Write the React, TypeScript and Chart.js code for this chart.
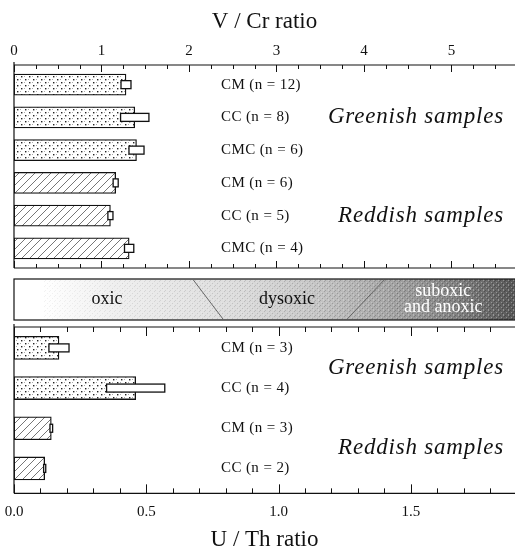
import React, { useEffect, useRef } from "react";
import { Chart, registerables } from "chart.js";

Chart.register(...registerables);

// ---------- data ----------
const topCategories = ["CM (n = 12)", "CC (n = 8)", "CMC (n = 6)", "CM (n = 6)", "CC (n = 5)", "CMC (n = 4)"];
const topGroups = ["green", "green", "green", "red", "red", "red"];
const vcrMean = [1.28, 1.38, 1.4, 1.162, 1.102, 1.316];
const vcrSd = [0.057, 0.162, 0.086, 0.029, 0.029, 0.053];
const topGroupLabels = ["Greenish samples", "Reddish samples"];
const topGroupRows = [1, 4];

const botCategories = ["CM (n = 3)", "CC (n = 4)", "CM (n = 3)", "CC (n = 2)"];
const botGroups = ["green", "green", "red", "red"];
const uthMean = [0.17, 0.46, 0.141, 0.116];
const uthSd = [0.038, 0.11, 0.005, 0.004];
const botGroupLabels = ["Greenish samples", "Reddish samples"];
const botGroupRows = [0.5, 2.5];

const zoneNames: string[][] = [["oxic"], ["dysoxic"], ["suboxic", "and anoxic"]];
const vcrThresholds = [2.05, 4.23];
const uthThresholds = [0.79, 1.26];

const vcrMax = 5.726;
const uthMax = 1.894;

const FONT = "'Liberation Serif', 'Times New Roman', serif";
const INK = "#111";

function dotPattern(): CanvasPattern | string {
  const c = document.createElement("canvas");
  c.width = 8;
  c.height = 6;
  const g = c.getContext("2d");
  if (!g) return "#eee";
  g.fillStyle = "#fff";
  g.fillRect(0, 0, 8, 6);
  g.fillStyle = "#222";
  g.fillRect(1, 1, 1.4, 1.4);
  g.fillRect(5, 4, 1.4, 1.4);
  g.fillStyle = "#aaa";
  g.fillRect(4, 1, 1, 1);
  g.fillRect(0, 4, 1, 1);
  return g.createPattern(c, "repeat") || "#eee";
}

function hatchPattern(): CanvasPattern | string {
  const s = 8;
  const c = document.createElement("canvas");
  c.width = s;
  c.height = s;
  const g = c.getContext("2d");
  if (!g) return "#ddd";
  g.fillStyle = "#fff";
  g.fillRect(0, 0, s, s);
  g.strokeStyle = "#666";
  g.lineWidth = 0.9;
  g.beginPath();
  g.moveTo(0, s);
  g.lineTo(s, 0);
  g.moveTo(-1, 1);
  g.lineTo(1, -1);
  g.moveTo(s - 1, s + 1);
  g.lineTo(s + 1, s - 1);
  g.stroke();
  return g.createPattern(c, "repeat") || "#ddd";
}

function grainPattern(): CanvasPattern | null {
  const c = document.createElement("canvas");
  c.width = 5;
  c.height = 5;
  const g = c.getContext("2d");
  if (!g) return null;
  g.fillStyle = "rgba(0,0,0,0.35)";
  g.fillRect(0, 0, 1, 1);
  g.fillRect(2, 3, 1, 1);
  g.fillRect(4, 1, 1, 1);
  g.fillStyle = "rgba(255,255,255,0.45)";
  g.fillRect(1, 2, 1, 1);
  g.fillRect(3, 4, 1, 1);
  g.fillRect(3, 0, 1, 1);
  return g.createPattern(c, "repeat");
}

type PanelOpts = {
  means: number[];
  sds: number[];
  cats: string[];
  groupLabels: string[];
  groupRows: number[];
  boxH: number;
  majorLen: number;
  minorLen: number;
  isMajor: (v: number) => boolean;
  catOffset: number;
};

function panelPlugin(id: string, o: PanelOpts) {
  return {
    id,
    afterDatasetsDraw(chart: any) {
      const ctx: any = chart.ctx;
      const xs = chart.scales.x;
      const ys = chart.scales.y;
      const { left, right, top, bottom } = chart.chartArea;
      ctx.save();
      // error boxes
      ctx.lineWidth = 1.3;
      ctx.strokeStyle = INK;
      ctx.fillStyle = "#fff";
      o.means.forEach((m, i) => {
        const x1 = xs.getPixelForValue(m - o.sds[i]);
        const x2 = xs.getPixelForValue(m + o.sds[i]);
        const yc = ys.getPixelForValue(i);
        ctx.fillRect(x1, yc - o.boxH / 2, x2 - x1, o.boxH);
        ctx.strokeRect(x1, yc - o.boxH / 2, x2 - x1, o.boxH);
      });
      // frame
      ctx.lineWidth = 1.2;
      ctx.beginPath();
      ctx.moveTo(left, top);
      ctx.lineTo(right, top);
      ctx.moveTo(left, bottom);
      ctx.lineTo(right, bottom);
      ctx.moveTo(left, top - 3);
      ctx.lineTo(left, bottom);
      ctx.stroke();
      ctx.lineWidth = 1;
      ctx.beginPath();
      xs.ticks.forEach((t: any) => {
        const px = Math.round(xs.getPixelForValue(t.value)) + 0.5;
        const len = o.isMajor(t.value) ? o.majorLen : o.minorLen;
        ctx.moveTo(px, top);
        ctx.lineTo(px, top + len);
        ctx.moveTo(px, bottom);
        ctx.lineTo(px, bottom - len);
      });
      ctx.stroke();
      // category labels
      ctx.fillStyle = INK;
      ctx.font = `15px ${FONT}`;
      ctx.letterSpacing = "0.4px";
      ctx.textAlign = "left";
      ctx.textBaseline = "middle";
      o.cats.forEach((c, i) => {
        ctx.fillText(c, left + o.catOffset, ys.getPixelForValue(i));
      });
      // group labels
      ctx.font = `italic 23px ${FONT}`;
      ctx.letterSpacing = "0.8px";
      ctx.textAlign = "right";
      o.groupLabels.forEach((g, i) => {
        ctx.fillText(g, right - 11, ys.getPixelForValue(o.groupRows[i]));
      });
      ctx.letterSpacing = "0px";
      ctx.restore();
    },
  };
}

const noSidePadding = (scale: any) => {
  scale.paddingLeft = 0;
  scale.paddingRight = 0;
};

export default function App() {
  const topRef = useRef<HTMLCanvasElement>(null);
  const botRef = useRef<HTMLCanvasElement>(null);

  useEffect(() => {
    if (!topRef.current || !botRef.current) return;
    const dots = dotPattern();
    const hatch = hatchPattern();
    const grain = grainPattern();

    const topChart = new Chart(topRef.current, {
      type: "bar",
      data: {
        datasets: [
          {
            data: vcrMean.map((v, i) => ({ x: v, y: i })),
            backgroundColor: topGroups.map((g) => (g === "green" ? dots : hatch)),
            borderColor: INK,
            borderWidth: 1.3,
            borderSkipped: false,
            barThickness: 21,
          } as any,
        ],
      },
      options: {
        indexAxis: "y",
        responsive: false,
        animation: false,
        layout: { padding: { left: 14, right: 0, top: 7, bottom: 2 } },
        plugins: { legend: { display: false }, tooltip: { enabled: false } },
        scales: {
          x: {
            type: "linear",
            position: "top",
            min: 0,
            max: vcrMax,
            afterFit: noSidePadding,
            grid: { display: false, drawTicks: false },
            border: { display: false },
            ticks: {
              stepSize: 0.25,
              autoSkip: false,
              maxRotation: 0,
              minRotation: 0,
              includeBounds: false,
              padding: 5,
              color: INK,
              font: { family: FONT, size: 15 },
              callback: (v: any) => (Number.isInteger(v) ? String(v) : ""),
            },
            title: {
              display: true,
              text: "V / Cr ratio",
              color: INK,
              font: { family: FONT, size: 23 },
              padding: { top: 1, bottom: 1.4 },
            },
          },
          y: { type: "linear", min: -0.6, max: 5.6, reverse: true, offset: false, display: false },
        },
      } as any,
      plugins: [
        panelPlugin("topPanel", {
          means: vcrMean,
          sds: vcrSd,
          cats: topCategories,
          groupLabels: topGroupLabels,
          groupRows: topGroupRows,
          boxH: 8,
          majorLen: 7,
          minorLen: 4,
          isMajor: (v) => Number.isInteger(v),
          catOffset: 207,
        }),
      ],
    });

    const bandPlugin = {
      id: "band",
      afterDraw(chart: any) {
        const ctx: CanvasRenderingContext2D = chart.ctx;
        const { left, right, top } = chart.chartArea;
        const bTop = top - 48;
        const bBot = top - 7;
        ctx.save();
        const grad = ctx.createLinearGradient(left, 0, right, 0);
        grad.addColorStop(0, "#ffffff");
        grad.addColorStop(0.06, "#ffffff");
        grad.addColorStop(0.2, "#efefef");
        grad.addColorStop(0.45, "#dcdcdc");
        grad.addColorStop(0.6, "#c6c6c6");
        grad.addColorStop(0.75, "#a6a6a6");
        grad.addColorStop(0.88, "#828282");
        grad.addColorStop(1, "#575757");
        ctx.fillStyle = grad;
        ctx.fillRect(left, bTop, right - left, bBot - bTop);
        if (grain) {
          const start = left + 30;
          const segs = 12;
          const w = (right - start) / segs;
          ctx.fillStyle = grain;
          for (let k = 0; k < segs; k++) {
            ctx.globalAlpha = 0.15 + (0.6 * k) / segs;
            ctx.fillRect(start + k * w, bTop, w + 0.5, bBot - bTop);
          }
          ctx.globalAlpha = 1;
        }
        ctx.strokeStyle = INK;
        ctx.lineWidth = 1.2;
        ctx.strokeRect(left, bTop, right - left + 2, bBot - bTop);
        // zone boundaries
        const tx = topChart.scales.x;
        const bx = chart.scales.x;
        ctx.strokeStyle = "#666";
        ctx.lineWidth = 1;
        const xsTop: number[] = [];
        const xsBot: number[] = [];
        vcrThresholds.forEach((t, i) => {
          const x1 = tx.getPixelForValue(t);
          const x2 = bx.getPixelForValue(uthThresholds[i]);
          xsTop.push(x1);
          xsBot.push(x2);
          ctx.beginPath();
          ctx.moveTo(x1, bTop + 1);
          ctx.lineTo(x2, bBot - 1);
          ctx.stroke();
        });
        // zone labels
        const bounds = [left - 8, ...xsTop.map((x, i) => (x + xsBot[i]) / 2), right];
        ctx.font = `18px ${FONT}`;
        ctx.textAlign = "center";
        ctx.textBaseline = "middle";
        const yMid = (bTop + bBot) / 2;
        zoneNames.forEach((lines, i) => {
          const cx = (bounds[i] + bounds[i + 1]) / 2;
          ctx.fillStyle = i === zoneNames.length - 1 ? "#ffffff" : INK;
          const lh = 16;
          lines.forEach((ln, k) => {
            ctx.fillText(ln, cx + (i === 2 ? 3 : 0), yMid + (k - (lines.length - 1) / 2) * lh);
          });
        });
        ctx.restore();
      },
    };

    const botChart = new Chart(botRef.current, {
      type: "bar",
      data: {
        datasets: [
          {
            data: uthMean.map((v, i) => ({ x: v, y: i })),
            backgroundColor: botGroups.map((g) => (g === "green" ? dots : hatch)),
            borderColor: INK,
            borderWidth: 1.3,
            borderSkipped: false,
            barThickness: 23,
          } as any,
        ],
      },
      options: {
        indexAxis: "y",
        responsive: false,
        animation: false,
        layout: { padding: { left: 14, right: 0, top: 57, bottom: 0 } },
        plugins: { legend: { display: false }, tooltip: { enabled: false } },
        scales: {
          x: {
            type: "linear",
            position: "bottom",
            min: 0,
            max: uthMax,
            afterFit: noSidePadding,
            grid: { display: false, drawTicks: false },
            border: { display: false },
            ticks: {
              stepSize: 0.1,
              autoSkip: false,
              maxRotation: 0,
              minRotation: 0,
              includeBounds: false,
              padding: 10,
              color: INK,
              font: { family: FONT, size: 15 },
              callback: (v: any) => {
                const h = v * 2;
                return Math.abs(h - Math.round(h)) < 1e-6 ? Number(v).toFixed(1) : "";
              },
            },
            title: {
              display: true,
              text: "U / Th ratio",
              color: INK,
              font: { family: FONT, size: 23, lineHeight: 0.75 },
              padding: { top: 0, bottom: 7.4 },
            },
          },
          y: { type: "linear", min: -0.52, max: 3.62, reverse: true, offset: false, display: false },
        },
      } as any,
      plugins: [
        bandPlugin,
        panelPlugin("botPanel", {
          means: uthMean,
          sds: uthSd,
          cats: botCategories,
          groupLabels: botGroupLabels,
          groupRows: botGroupRows,
          boxH: 8,
          majorLen: 9,
          minorLen: 5,
          isMajor: (v) => Math.abs(v * 2 - Math.round(v * 2)) < 1e-6,
          catOffset: 207,
        }),
      ],
    });

    return () => {
      botChart.destroy();
      topChart.destroy();
    };
  }, []);

  return (
    <div style={{ position: "fixed", left: 0, top: 0, width: 515, height: 556, background: "#fff" }}>
      <canvas ref={topRef} width={515} height={270} style={{ position: "absolute", left: 0, top: 0, width: 515, height: 270 }} />
      <canvas ref={botRef} width={515} height={286} style={{ position: "absolute", left: 0, top: 270, width: 515, height: 286 }} />
    </div>
  );
}
